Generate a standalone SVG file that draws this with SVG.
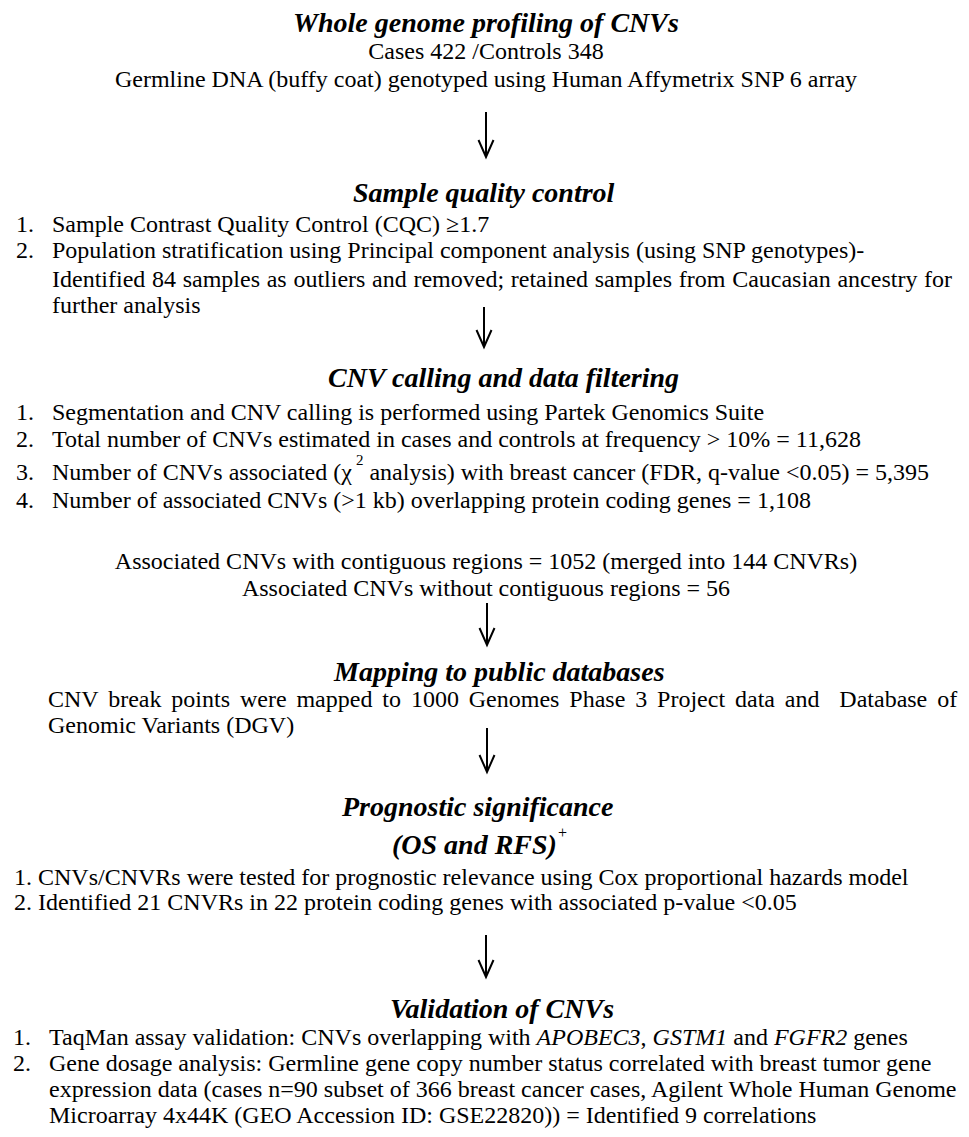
<svg xmlns="http://www.w3.org/2000/svg" width="969" height="1137" viewBox="0 0 969 1137">
  <style>
    text { font-family: 'Liberation Serif', 'Times New Roman', Times, serif; fill: #000; }
    .t { font-size: 28px; font-weight: bold; font-style: italic; }
    .b { font-size: 24px; }
    .i { font-style: italic; }
    .sup { font-size: 15px; }
    .plus { font-size: 16px; }
    .arrow { stroke: #000; stroke-width: 2; fill: none; marker-end: url(#head); }
  </style>
  <defs>
    <marker id="head" viewBox="0 0 18 16" refX="17" refY="8" markerWidth="18" markerHeight="16" markerUnits="userSpaceOnUse" orient="auto" overflow="visible">
      <path d="M0,0.5 L17,8 L0,15.5" fill="none" stroke="#000" stroke-width="2"/>
    </marker>
  </defs>
  <rect width="969" height="1137" fill="#fff"/>

  <g id="profiling">
    <text class="t" x="486" y="32" text-anchor="middle">Whole genome profiling of CNVs</text>
    <text class="b" x="486" y="59" text-anchor="middle">Cases 422 /Controls 348</text>
    <text class="b" x="486" y="87" text-anchor="middle">Germline DNA (buffy coat) genotyped using Human Affymetrix SNP 6 array</text>
  </g>

  <g id="sample-qc">
    <text class="t" x="353" y="202">Sample quality control</text>
    <text class="b" x="16" y="232">1.</text>
    <text class="b" x="52" y="232">Sample Contrast Quality Control (CQC) ≥1.7</text>
    <text class="b" x="16" y="258">2.</text>
    <text class="b" x="52" y="258">Population stratification using Principal component analysis (using SNP genotypes)-</text>
    <text class="b" x="52" y="287" word-spacing="0.7">Identified 84 samples as outliers and removed; retained samples from Caucasian ancestry for</text>
    <text class="b" x="52" y="313">further analysis</text>
  </g>

  <g id="cnv-calling">
    <text class="t" x="328" y="387">CNV calling and data filtering</text>
    <text class="b" x="16" y="420">1.</text>
    <text class="b" x="52" y="420">Segmentation and CNV calling is performed using Partek Genomics Suite</text>
    <text class="b" x="16" y="447">2.</text>
    <text class="b" x="52" y="447">Total number of CNVs estimated in cases and controls at frequency &gt; 10% = 11,628</text>
    <text class="b" x="16" y="480">3.</text>
    <text class="b" x="52" y="480">Number of CNVs associated (χ<tspan class="sup" dx="4" dy="-15">2</tspan><tspan dy="15"> analysis) with breast cancer (FDR, q-value &lt;0.05) = 5,395</tspan></text>
    <text class="b" x="16" y="508">4.</text>
    <text class="b" x="52" y="508">Number of associated CNVs (&gt;1 kb) overlapping protein coding genes = 1,108</text>
    <text class="b" x="486" y="569" text-anchor="middle">Associated CNVs with contiguous regions = 1052 (merged into 144 CNVRs)</text>
    <text class="b" x="486" y="596" text-anchor="middle">Associated CNVs without contiguous regions = 56</text>
  </g>

  <g id="mapping">
    <text class="t" x="334" y="681">Mapping to public databases</text>
    <text class="b" x="48" y="707" xml:space="preserve" word-spacing="3.9">CNV break points were mapped to 1000 Genomes Phase 3 Project data and  Database of</text>
    <text class="b" x="48" y="733">Genomic Variants (DGV)</text>
  </g>

  <g id="prognostic">
    <text class="t" x="342" y="816">Prognostic significance</text>
    <text class="t" x="392" y="854">(OS and RFS)</text>
    <text class="plus" x="558" y="838">+</text>
    <text class="b" x="14" y="885">1. CNVs/CNVRs were tested for prognostic relevance using Cox proportional hazards model</text>
    <text class="b" x="14" y="910">2. Identified 21 CNVRs in 22 protein coding genes with associated p-value &lt;0.05</text>
  </g>

  <g id="validation">
    <text class="t" x="390" y="1018">Validation of CNVs</text>
    <text class="b" x="13" y="1045">1.</text>
    <text class="b" x="49" y="1045">TaqMan assay validation: CNVs overlapping with <tspan class="i">APOBEC3</tspan>, <tspan class="i">GSTM1</tspan> and <tspan class="i">FGFR2</tspan> genes</text>
    <text class="b" x="13" y="1071">2.</text>
    <text class="b" x="49" y="1071">Gene dosage analysis: Germline gene copy number status correlated with breast tumor gene</text>
    <text class="b" x="49" y="1097">expression data (cases n=90 subset of 366 breast cancer cases, Agilent Whole Human Genome</text>
    <text class="b" x="49" y="1123">Microarray 4x44K (GEO Accession ID: GSE22820)) = Identified 9 correlations</text>
  </g>

  <g id="connectors">
    <line class="arrow" x1="486" y1="112" x2="486" y2="157"/>
    <line class="arrow" x1="484" y1="307" x2="484" y2="347"/>
    <line class="arrow" x1="487" y1="603" x2="487" y2="645"/>
    <line class="arrow" x1="487" y1="728" x2="487" y2="772"/>
    <line class="arrow" x1="486" y1="935" x2="486" y2="977"/>
  </g>
</svg>
